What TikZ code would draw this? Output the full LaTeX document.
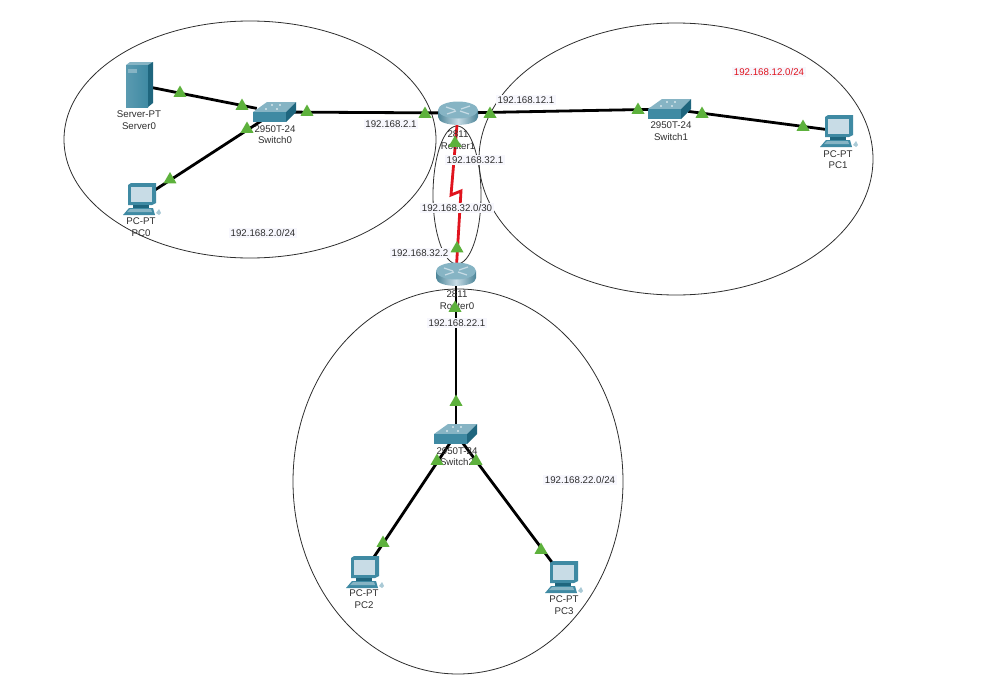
\documentclass[tikz,border=0pt]{standalone}
\usepackage{fontspec}
\setmainfont{Liberation Sans}
\usepackage{tikz}
\usetikzlibrary{positioning, shapes.geometric}
\definecolor{netGreen}{HTML}{5DB13C}
\definecolor{netRed}{HTML}{E0141E}
\definecolor{netInk}{HTML}{2E2E2E}
\definecolor{netPaper}{HTML}{F7F7FD}
\definecolor{netTeal}{HTML}{3F8AA3}
\definecolor{netDeep}{HTML}{1F667E}
\definecolor{netPale}{HTML}{86B4C4}
\definecolor{netScreen}{HTML}{C8DCE6}

\begin{document}
\begin{tikzpicture}[x=1pt, y=-1pt,
            font=\fontsize{9.7}{11.5}\selectfont, text=netInk,
            zone/.style={draw=netInk, line width=0.8pt},
            ethlink/.style={draw=black, line width=2.8pt},
            seriallink/.style={draw=netRed, line width=2.8pt},
            device/.style={rectangle, inner sep=0pt},
            routerbox/.style={device, minimum width=36pt, minimum height=20pt},
            switchbox/.style={device, minimum width=36pt, minimum height=16pt},
            serverbox/.style={device, minimum width=24pt, minimum height=40pt},
            pcbox/.style={device, minimum width=22pt, minimum height=24pt},
            devlabel/.style={align=center, inner sep=0pt},
            iplabel/.style={fill=netPaper, inner sep=1.5pt},
            portup/.style={regular polygon, regular polygon sides=3,
              fill=netGreen, inner sep=0pt, minimum size=15pt},
            routerpic/.pic={
              \shade[left color=netDeep!80, right color=netDeep!80, middle color=netScreen]
                (-20,-3) -- (-20,4) .. controls (-20,14.5) and (20,14.5) .. (20,4) -- (20,-3) -- cycle;
              \fill[netPale] (0,-3) ellipse (20 and 8.5);
              \draw[netScreen, line width=1.2pt] (-12,-6) -- (-3,-3) (12,-7) -- (3,-4)
                (-11,1) -- (-2,-2) (11,1) -- (2,-2);
            },
            switchpic/.pic={
              \fill[netPale] (-22,0) -- (-8,-10) -- (21,-10) -- (11,0) -- cycle;
              \fill[netTeal] (-22,0) rectangle (11,10);
              \fill[netDeep] (11,0) -- (21,-10) -- (21,0) -- (11,10) -- cycle;
              \fill[white] (-9,-3) circle (0.8) (-3,-7) circle (0.8) (5,-7) circle (0.8) (2,-3) circle (0.8);
            },
            serverpic/.pic={
              \fill[netPale] (-13,-20) -- (-9,-23) -- (14,-23) -- (9,-20) -- cycle;
              \shade[left color=netTeal!80!netScreen, right color=netTeal] (-13,-20) rectangle (9,22);
              \fill[netDeep] (9,-20) -- (14,-23) -- (14,18) -- (9,22) -- cycle;
              \fill[netPale] (-11,-16) rectangle (-2,-12);
            },
            pcpic/.pic={
              \fill[netTeal] (-13,-14) -- (-10,-16) -- (15,-16) -- (15,4) -- (11,6) -- (-13,6) -- cycle;
              \fill[netScreen] (-10,-12) rectangle (11,3);
              \fill[netDeep] (-8,6) rectangle (8,9);
              \fill[netTeal] (-18,16) -- (-12,9) -- (12,9) -- (14,16) -- cycle;
              \fill[netPale] (-14,13) -- (-11,10) -- (10,10) -- (11,13) -- cycle;
              \fill[netPale!70!white] (15,14) -- (18,10) -- (20,14) -- (18,16) -- cycle;
            }
          ]
          \useasboundingbox (0,0) rectangle (998,680);

          % Redes
          \draw[zone] (250,139.5) ellipse (186 and 118.5);
          \draw[zone] (676,159) ellipse (197 and 136);
          \draw[zone] (458,481.5) ellipse (165 and 192.5);
          \draw[zone] (457,195) ellipse (24 and 69);

          % Equipos
          \node[routerbox] (router1) at (458,113) {};
          \node[routerbox] (router0) at (456,274) {};
          \node[switchbox] (switch0) at (275,112) {};
          \node[switchbox] (switch1) at (670,109) {};
          \node[switchbox] (switch2) at (456,434) {};
          \node[serverbox] (server0) at (139,85) {};
          \node[pcbox] (pc0) at (141,199) {};
          \node[pcbox] (pc1) at (838,131) {};
          \node[pcbox] (pc2) at (364,572) {};
          \node[pcbox] (pc3) at (563,577) {};
          \coordinate (zigA) at (451,195);
          \coordinate (zigB) at (461,191);

          % Enlaces
          \draw[ethlink] (server0) -- (switch0);
          \draw[ethlink] (pc0) -- (switch0);
          \draw[ethlink] (switch0) -- (router1);
          \draw[ethlink] (router1) -- (switch1);
          \draw[ethlink] (switch1) -- (pc1);
          \draw[ethlink] (router0) -- (switch2);
          \draw[ethlink] (switch2) -- (pc2);
          \draw[ethlink] (switch2) -- (pc3);
          \draw[seriallink] (router1) -- (zigA) -- (zigB) -- (router0);

          % Iconos
          \pic at (router1) {routerpic};
          \pic at (router0) {routerpic};
          \pic at (switch0) {switchpic};
          \pic at (switch1) {switchpic};
          \pic at (switch2) {switchpic};
          \pic at (server0) {serverpic};
          \pic at (pc0) {pcpic};
          \pic at (pc1) {pcpic};
          \pic at (pc2) {pcpic};
          \pic at (pc3) {pcpic};

          % Rotulos de equipos
          \node[devlabel] (labRouter1) at (458,140) {2811\\Router1};
          \node[devlabel] (labRouter0) at (457,300) {2811\\Router0};
          \node[devlabel] (labSwitch0) at (275,134.5) {2950T-24\\Switch0};
          \node[devlabel] (labSwitch1) at (671,131) {2950T-24\\Switch1};
          \node[devlabel] (labSwitch2) at (457,456.5) {2950T-24\\Switch2};
          \node[devlabel] (labServer0) at (139,120) {Server-PT\\Server0};
          \node[devlabel] (labPc0) at (141,227) {PC-PT\\PC0};
          \node[devlabel] (labPc1) at (838,159.5) {PC-PT\\PC1};
          \node[devlabel] (labPc2) at (364,599) {PC-PT\\PC2};
          \node[devlabel] (labPc3) at (564,605) {PC-PT\\PC3};

          % Puertos
          \node[portup] (portA) at (180,93) {};
          \node[portup] (portB) at (242,106) {};
          \node[portup] (portC) at (170,179.5) {};
          \node[portup] (portD) at (247,129) {};
          \node[portup] (portE) at (307,112) {};
          \node[portup] (portF) at (425,114) {};
          \node[portup] (portG) at (490,114) {};
          \node[portup] (portH) at (638,110) {};
          \node[portup] (portI) at (702,114) {};
          \node[portup] (portJ) at (803,127) {};
          \node[portup] (portK) at (455,143) {};
          \node[portup] (portL) at (457,248.5) {};
          \node[portup] (portM) at (455,308) {};
          \node[portup] (portN) at (456,402) {};
          \node[portup] (portO) at (437,461) {};
          \node[portup] (portP) at (476,461) {};
          \node[portup] (portQ) at (383,543) {};
          \node[portup] (portR) at (541,550) {};

          % Direcciones
          \node[iplabel] (ipA) at (391,124) {192.168.2.1};
          \node[iplabel] (ipB) at (526,100) {192.168.12.1};
          \node[iplabel] (ipC) at (475,160) {192.168.32.1};
          \node[iplabel] (ipD) at (457,208) {192.168.32.0/30};
          \node[iplabel] (ipE) at (420,253) {192.168.32.2};
          \node[iplabel] (ipF) at (457,323) {192.168.22.1};
          \node[iplabel] (netA) at (263,233) {192.168.2.0/24};
          \node[iplabel, text=netRed] (netB) at (769,72) {192.168.12.0/24};
          \node[iplabel] (netC) at (580,480) {192.168.22.0/24};
        \end{tikzpicture}
\end{document}
